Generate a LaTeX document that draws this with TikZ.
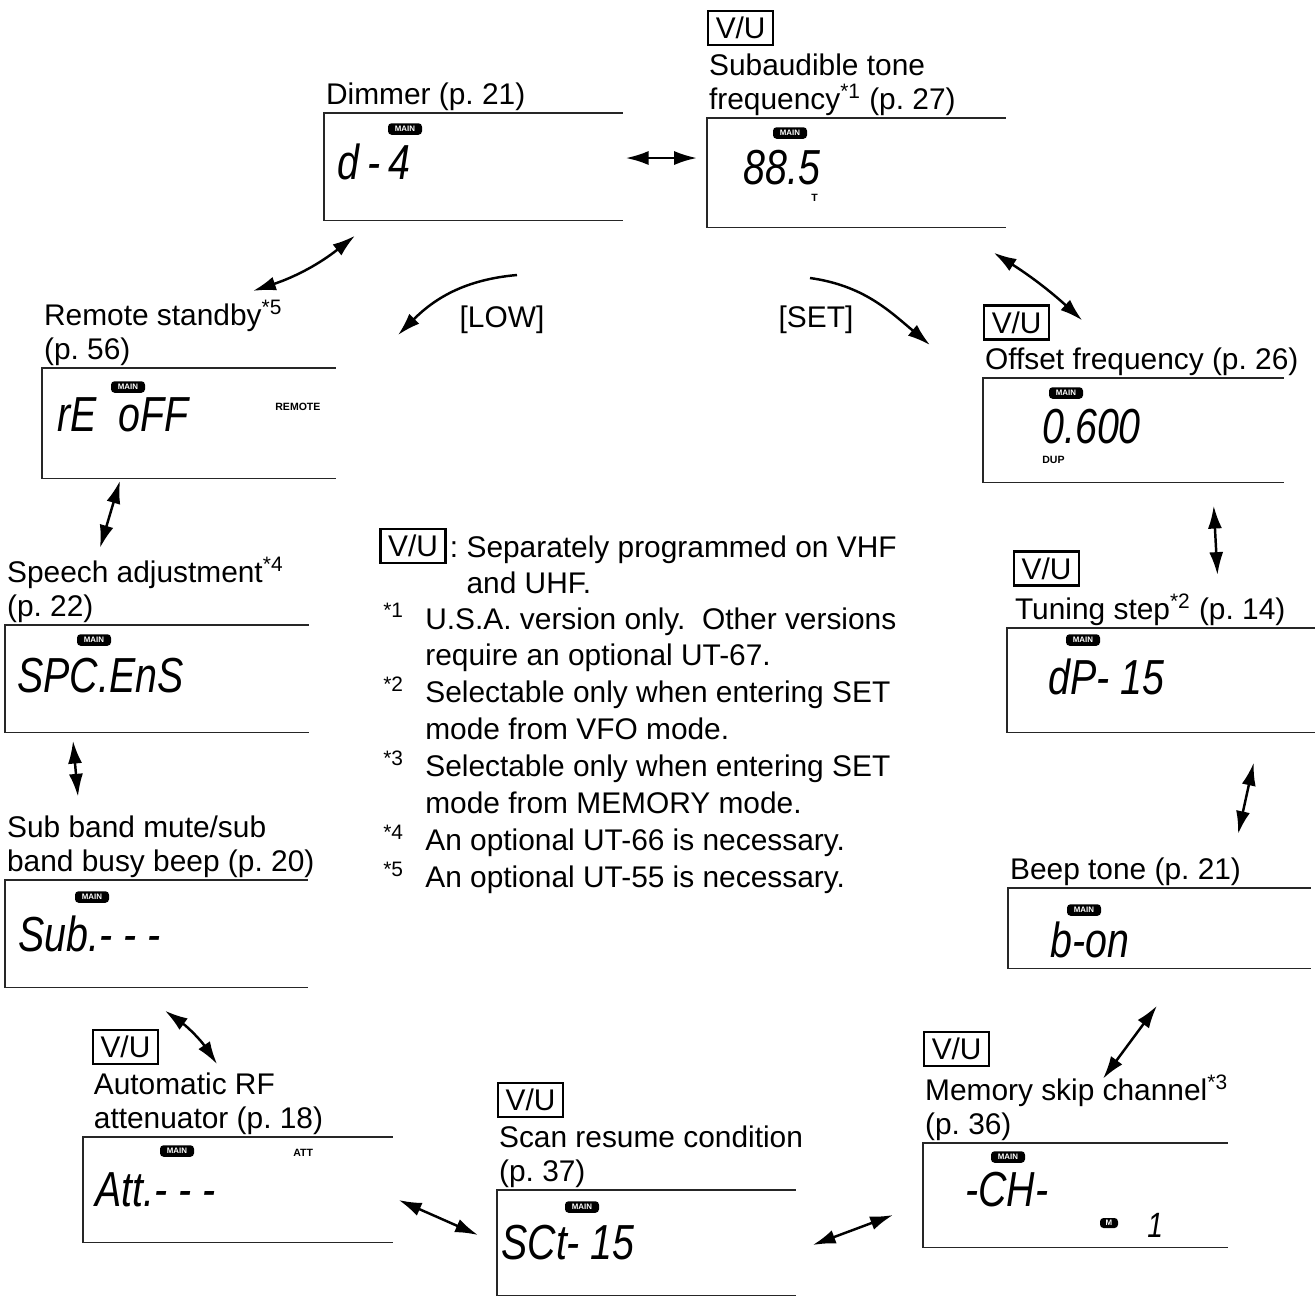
\documentclass[tikz,border=0pt]{standalone}
\usepackage{fontspec}
\setmainfont{Liberation Sans}
\newfontfamily\lcdfont[FakeStretch=0.8]{Liberation Sans}
\usepackage{tikz}
\usetikzlibrary{arrows.meta,positioning}
\frenchspacing

\begin{document}
\begin{tikzpicture}[
    x=0.2mm, y=-0.2mm,
    font=\fontsize{17}{19.5}\selectfont,
    lcd/.style={minimum width=6cm, minimum height=2.14cm, anchor=north west, inner sep=0pt},
    lcdframe/.style={line width=0.8pt, black!85},
    lbl/.style={align=left, inner sep=1pt},
    vu/.style={draw, line width=1.3pt, minimum width=13mm, minimum height=6.8mm, inner sep=0pt},
    badge/.style={fill=black, rounded corners=2pt, text=white, minimum width=6.8mm, minimum height=2.3mm, inner sep=0pt, font=\fontsize{4.5}{4.5}\selectfont\bfseries},
    seg/.style={anchor=west, inner sep=0pt, font=\fontsize{28}{28}\selectfont\lcdfont\itshape},
    ind/.style={anchor=west, inner sep=0pt, font=\fontsize{6}{6}\selectfont\bfseries},
    dbl/.style={{Latex[length=13pt,width=8pt]}-{Latex[length=13pt,width=8pt]}, line width=1.4pt},
    swing/.style={-{Latex[length=13pt,width=8pt]}, line width=1.4pt}
]
\useasboundingbox (0,0) rectangle (1315,1297);

% display frames
\node[lcd, minimum width=5.96cm] (dim) at (324,113) {};
\node[lcd, minimum width=5.96cm, minimum height=2.18cm] (tone) at (707,118) {};
\node[lcd, minimum width=5.86cm, minimum height=2.2cm] (rem) at (42,368) {};
\node[lcd, minimum height=2.08cm] (offs) at (983,378) {};
\node[lcd, minimum width=6.06cm] (spch) at (5,625) {};
\node[lcd, minimum width=6.16cm, minimum height=2.08cm] (tstep) at (1007,628) {};
\node[lcd, minimum width=6.04cm] (subb) at (5,880) {};
\node[lcd, minimum width=6.04cm, minimum height=1.6cm] (beep) at (1008,888) {};
\node[lcd, minimum width=6.18cm, minimum height=2.1cm] (att) at (83,1137) {};
\node[lcd, minimum width=5.96cm, minimum height=2.1cm] (scan) at (497,1190) {};
\node[lcd, minimum width=6.08cm, minimum height=2.08cm] (mskip) at (923,1143) {};

\foreach \n in {dim,tone,rem,offs,spch,tstep,subb,beep,att,scan,mskip}
  \draw[lcdframe] (\n.north east) -| (\n.south west) -- (\n.south east);

% titles
\node[lbl, above right=0pt and 0pt of dim.north west] (dimlbl) {Dimmer (p. 21)};
\node[lbl, above right=0pt and 0pt of tone.north west] (tonelbl) {Subaudible tone\\frequency\textsuperscript{*1} (p. 27)};
\node[lbl, above right=0pt and 0pt of rem.north west] (remlbl) {Remote standby\textsuperscript{*5}\\(p. 56)};
\node[lbl, above right=0pt and 0pt of offs.north west] (offslbl) {Offset frequency (p. 26)};
\node[lbl, above right=0pt and 0pt of spch.north west] (spchlbl) {Speech adjustment\textsuperscript{*4}\\(p. 22)};
\node[lbl, above right=0pt and 3.4pt of tstep.north west] (tsteplbl) {Tuning step\textsuperscript{*2} (p. 14)};
\node[lbl, above right=0pt and 0pt of subb.north west] (subblbl) {Sub band mute/sub\\band busy beep (p. 20)};
\node[lbl, above right=0pt and 0pt of beep.north west] (beeplbl) {Beep tone (p. 21)};
\node[lbl, above right=0pt and 5pt of att.north west] (attlbl) {Automatic RF\\attenuator (p. 18)};
\node[lbl, above right=0pt and 0pt of scan.north west] (scanlbl) {Scan resume condition\\(p. 37)};
\node[lbl, above right=0pt and 0pt of mskip.north west] (mskiplbl) {Memory skip channel\textsuperscript{*3}\\(p. 36)};

\node[vu, above right=3pt and 0pt of tonelbl.north west] (tonevu) {V/U};
\node[vu, above right=3pt and 0pt of offslbl.north west] (offsvu) {V/U};
\node[vu, above right=3pt and 0pt of tsteplbl.north west] (tstepvu) {V/U};
\node[vu, above right=3pt and 0pt of attlbl.north west] (attvu) {V/U};
\node[vu, above right=3pt and 0pt of scanlbl.north west] (scanvu) {V/U};
\node[vu, above right=3pt and 0pt of mskiplbl.north west] (mskipvu) {V/U};

% display contents
\node[badge] (dimmain) at ([shift={(81,16)}]dim.north west) {MAIN};
\node[seg] (dimseg) at ([shift={(13,49)}]dim.north west) {d\,-\,4};

\node[badge] (tonemain) at ([shift={(83,15)}]tone.north west) {MAIN};
\node[seg] (toneseg) at ([shift={(36,50)}]tone.north west) {88.5};
\node[ind] (tonet) at ([shift={(104,80)}]tone.north west) {T};

\node[badge] (remmain) at ([shift={(86,19)}]rem.north west) {MAIN};
\node[seg] (remseg) at ([shift={(15,47)}]rem.north west) {rE\ \ oFF};
\node[ind] (remind) at ([shift={(233,39)}]rem.north west) {REMOTE};

\node[badge] (offsmain) at ([shift={(83,15)}]offs.north west) {MAIN};
\node[seg] (offsseg) at ([shift={(59,49)}]offs.north west) {0.600};
\node[ind] (offsind) at ([shift={(59,82)}]offs.north west) {DUP};

\node[badge] (spchmain) at ([shift={(89,15)}]spch.north west) {MAIN};
\node[seg] (spchseg) at ([shift={(12,51)}]spch.north west) {SPC.EnS};

\node[badge] (tstepmain) at ([shift={(76,12)}]tstep.north west) {MAIN};
\node[seg] (tstepseg) at ([shift={(41,49)}]tstep.north west) {dP- 15};

\node[badge] (subbmain) at ([shift={(87,17)}]subb.north west) {MAIN};
\node[seg] (subbseg) at ([shift={(13,54)}]subb.north west) {Sub.- - -};

\node[badge] (beepmain) at ([shift={(76,22)}]beep.north west) {MAIN};
\node[seg] (beepseg) at ([shift={(42,52)}]beep.north west) {b-on};

\node[badge] (attmain) at ([shift={(94,14)}]att.north west) {MAIN};
\node[seg] (attseg) at ([shift={(12,53)}]att.north west) {Att.- - -};
\node[ind] (attind) at ([shift={(210,16)}]att.north west) {ATT};

\node[badge] (scanmain) at ([shift={(85,17)}]scan.north west) {MAIN};
\node[seg] (scanseg) at ([shift={(4,53)}]scan.north west) {SCt- 15};

\node[badge] (mskipmain) at ([shift={(85,14)}]mskip.north west) {MAIN};
\node[seg] (mskipseg) at ([shift={(42,47)}]mskip.north west) {-CH-};
\node[badge, minimum width=3.6mm, minimum height=2mm] (mskipm) at ([shift={(186,80)}]mskip.north west) {M};
\node[seg, font=\fontsize{20}{20}\selectfont\lcdfont\itshape] (mskipch) at ([shift={(224,82)}]mskip.north west) {1};

% the ring of settings
\draw[dbl] ([shift={(3,45)}]dim.north east) -- ([shift={(-10,40)}]tone.north west);
\draw[dbl] ([shift={(-12,25)}]tone.south east) to[bend left=5] ([shift={(32,16)}]offsvu.north east);
\draw[dbl] ([shift={(-70,23)}]offs.south east) -- ([shift={(-70,-17)}]tsteplbl.north east);
\draw[dbl] ([shift={(-62,30)}]tstep.south east) -- ([shift={(-5,-22)}]beeplbl.north east);
\draw[dbl] ([shift={(149,37)}]beep.south west) -- ([shift={(180,6)}]mskiplbl.north west);
\draw[dbl] ([shift={(-30,72)}]mskip.north west) -- ([shift={(17,55)}]scan.north east);
\draw[dbl] ([shift={(-19,45)}]scan.north west) -- ([shift={(6,63)}]att.north east);
\draw[dbl] ([shift={(160,23)}]subb.south west) to[bend left=10] ([shift={(58,35)}]attvu.north east);
\draw[dbl] ([shift={(68,8)}]spch.south west) -- ([shift={(73,-17)}]subblbl.north west);
\draw[dbl] ([shift={(78,2)}]rem.south west) -- ([shift={(95,-7)}]spchlbl.north west);
\draw[dbl] ([shift={(211,-7)}]remlbl.north west) to[bend right=10] ([shift={(31,15)}]dim.south west);

% keys
\node (lowkey) at (502,320) {[LOW]};
\node (setkey) at (816,320) {[SET]};
\draw[swing] ([shift={(15,-45)}]lowkey.center) to[out=185, in=45] ([shift={(-104,15)}]lowkey.center);
\draw[swing] ([shift={(-6,-42)}]setkey.center) to[out=-8, in=140] ([shift={(114,25)}]setkey.center);

% legend
\node[vu] (keyvu) at (413,546) {V/U};
\node[anchor=base west, inner sep=0pt, font=\fontsize{17}{21}\selectfont] (keytxt) at ([shift={(3,11)}]keyvu.east)
  {\begin{tabular}[t]{@{}l@{\ }l@{}}: & Separately programmed on VHF\\ & and UHF.\end{tabular}};
\node[anchor=base west, inner sep=0pt, font=\fontsize{17}{21}\selectfont] (notes) at (383,629)
  {\begin{tabular}[t]{@{}p{8.4mm}@{}l@{}}
   \textsuperscript{*1} & U.S.A. version only.\ \ Other versions\\
                        & require an optional UT-67.\\
   \textsuperscript{*2} & Selectable only when entering SET\\
                        & mode from VFO mode.\\
   \textsuperscript{*3} & Selectable only when entering SET\\
                        & mode from MEMORY mode.\\
   \textsuperscript{*4} & An optional UT-66 is necessary.\\
   \textsuperscript{*5} & An optional UT-55 is necessary.
  \end{tabular}};
\end{tikzpicture}
\end{document}
